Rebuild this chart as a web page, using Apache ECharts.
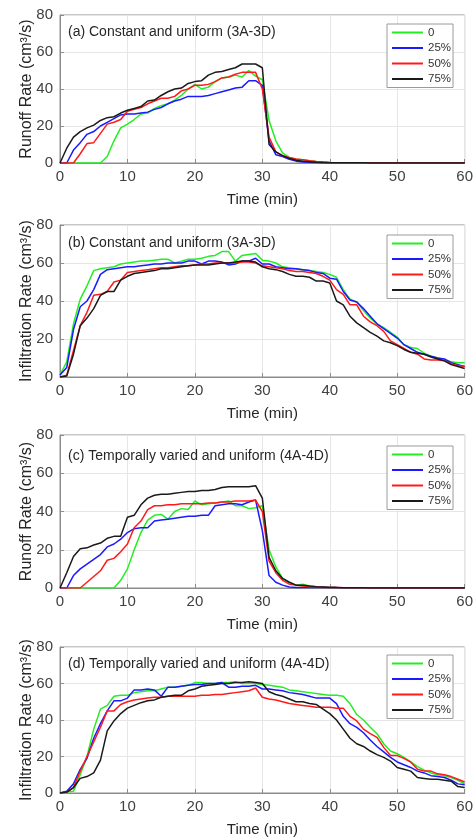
<!DOCTYPE html>
<html><head><meta charset="utf-8">
<script src="https://cdn.jsdelivr.net/npm/echarts@6/dist/echarts.min.js"></script>
<style>html,body{margin:0;padding:0;background:#fff}#c{width:476px;height:838px}</style>
</head><body><div id="c"></div>
<script>
const time = Array.from({length: 61}, (_, i) => i);
const seriesNames = ['0', '25%', '50%', '75%'];
const colors = ['#22ee22', '#1a1aff', '#ff1a1a', '#1a1a1a'];
const panelTitles = ['(a) Constant and uniform (3A-3D)', '(b) Constant and uniform (3A-3D)', '(c) Temporally varied and uniform (4A-4D)', '(d) Temporally varied and uniform (4A-4D)'];
const yNames = ['Runoff Rate (cm³/s)', 'Infiltration Rate (cm³/s)', 'Runoff Rate (cm³/s)', 'Infiltration Rate (cm³/s)'];

// tail values after 40 min for runoff
const tailA = [0.2,0.15,0.1,0.1,0.1,0.05,0.05,0,0,0,0,0,0,0,0,0,0,0,0,0];

// Panel (a) runoff, constant and uniform
const a0 = [0,0,0,0,0,0,0,3.5,12,19,21,23.5,26.5,27,29.5,31,32,34,36.5,40,42.5,40,41,44,46,46.5,47.5,46.5,50,47,45,23,12,5.5,3,2,1.8,1.2,0.8,0.5,0.3].concat(tailA);
const a25 = [0,0,7,11,15.5,17,20,22,24,26,26.5,26.5,27,27.5,29,30,32,33.5,34.5,36,36,36,36.5,37.5,38.5,39.5,40.5,41,44.5,44.5,42,12,4.5,3.5,2,1,0.6,0.4,0.3,0.2,0.2].concat(tailA);
const a50 = [0,0,0,5,10.5,11,16,21,22,23.5,28,29,30,32,33.5,35,35,36,39,40,42,42,42.5,44,46,46.5,48,49,49,49,40,14,6,4,3,2.2,1.8,1.2,0.8,0.5,0.3].concat(tailA);
const a75 = [0,8,14,17,19,20.5,23,24.5,25,27,28.5,29.5,30.5,33.5,34,36.5,38.5,40,40.5,43,44,44.5,47.5,49,49.5,50.5,51.5,53.5,53.5,53.5,51.5,10,6,4,2.5,1.5,1,0.7,0.4,0.3,0.2].concat(tailA);

// Panel (b) infiltration, constant and uniform
const b0 = [1,8,28,41,48,56,57,57.5,58,59.5,60,60.5,61,61,61.5,62,62,60,61,62,62,62.5,63.5,64,66,66,61,64,64.5,65,61.5,61,60,58,57.5,57,56.5,56,55.5,55,54,52.5,46,41,39.5,35,31,28,26,23.5,21,17,15.5,15,12.5,11,10,9,8,7.5,7.5];
const b25 = [1,5,25,37,40,46,54,56.5,57,57.5,58,58,58.5,59,59.5,59.5,60,60,60,61,61,59.5,61,61,60.5,59,59.5,61,61,62.5,59.5,59.5,58,57.5,57,57,56.5,56,55,54.5,52,51.5,45,40.5,39.5,36,32,28,25.5,23,20.5,17,15,13,12,11,10,9.5,7.5,6.5,5.5];
const b50 = [0,1,14,27,34,43,43.5,45,50,51,55,55.5,56,56.5,57,57.5,57.5,58,58.5,58.5,59,59.5,59.5,60,60,60,60,60.5,60.5,60,58.5,58,57.5,57,56,55.5,55.5,55,54.5,53,51,46,43.5,38,38,32,29,27,24,19,17,15,13,12,9.5,9,9,8.5,7,6,5.5];
const b75 = [0,0.5,12,27,31,36,43,45,45,51,53,54.5,55,55.5,56,57,57,57.5,58,58.5,59,59,59,59.5,60,60,60.5,61,61,60.5,58,57,56.5,55.5,54,53,53,52.5,50.5,50.5,49.5,40,38,32,28.5,26,23.5,21.5,19,18,16.5,14.5,13,12.5,12,10.5,9.5,8.5,6.5,5.5,4.5];

// Panel (c) runoff, temporally varied
const c0 = [0,0,0,0,0,0,0,0,0,4,10,20,29,35.5,38,38.5,36,40,41.5,41,45.5,43.5,44,44.5,45,45.5,43,43,41.5,42,43,20,11,5,3,1.5,2,1,0.7,0.5,0.3].concat(tailA);
const c25 = [0,0,6.5,10,12.5,15,17.5,21.5,23,25.5,29,31,31.5,31.5,35,35.5,36,36.5,37,37.5,37.5,38,38,43,43.5,44,44,43.5,45,46,30,6.5,3,1.5,0.5,0.3,0.3,0.2,0.2,0.2,0.2].concat(tailA);
const c50 = [0,0,0,0,3,6,9,14.5,15.5,19,23,31.5,35,41,43,43,43.5,43.5,44,44,44,44,44.5,44.5,45,45,45.5,45.5,45.5,46,40,14,8,4,2,1.5,1,0.7,0.5,0.3,0.2].concat(tailA);
const c75 = [0,8,16.5,20.5,21,22.5,23.5,26,27,27,37,38,43.5,47,48.5,49,49,49.5,50,50.5,50.5,51,51,51.5,52.5,53,53,53,53,53.5,47,16,9,5,3,1.5,1.5,1,0.7,0.5,0.3].concat(tailA);

// Panel (d) infiltration, temporally varied
const d0 = [0,0.5,1,10,20,35,46,48,53,53.5,53.5,55,55.5,56,56,57,58,58,58.5,59,60.5,60.5,60,60,60.5,60.5,61,60,60,60,59.5,59,58.5,58,56.5,56,55.5,55,54.5,54,53.5,53.5,53,49,43,40,36,32.5,27,23,21.5,19.5,17,14.5,12.5,11,10,9.5,8.5,7,5];
const d25 = [0,1,5,13,19,30,38,45,50.5,50.5,52,56.5,56.5,57,56.5,53,58,58,58.5,59,59.5,59.5,60,60,60.5,58,58,58.5,58.5,59,57,57,56.5,56,55,54.5,54,53,52,52,52,49,42,38,36,33,29,25.5,22.5,19.5,17,15.5,14,12,11,9.5,9,8.5,7,5,4.5];
const d50 = [0,0.5,3,12,20,28,36,45,45,48.5,50,51,51.5,52,52.5,52.5,53,53,53,53,53,53.5,53.5,54,54,54.5,55,55.5,56,57.5,52.5,51.5,51,50,49,48.5,48,47.5,47,47,47,46.5,46.5,42,39.5,35,32.5,30.5,25,20.5,20.5,19,17,13,12,12,10.5,10,9,7.5,6];
const d75 = [0,0.5,3,8,9,11,18,34,39.5,43.5,46.5,48,49.5,50.5,51,52.5,53,53.5,53.5,56,57,58.5,59,59.5,60,60,60.5,60.5,61,60.5,60,55.5,54,53,51.5,50,50,49,48.5,46,43.5,40,35,30,27,25.5,23,21,19.5,17.5,14,13,12,8.5,8,7.5,7.5,7,6.5,3.5,3];

const panels = [[a0,a25,a50,a75],[b0,b25,b50,b75],[c0,c25,c50,c75],[d0,d25,d50,d75]];
const gridTops = [15, 225, 435, 647];
const gridHeights = [148, 152, 153, 151];
const legendTops = [24, 235, 446, 655];
const titleTops = [20, 231, 444, 652];
const font = 'Liberation Sans, Arial, sans-serif';

const option = {
  animation: false,
  backgroundColor: '#fff',
  textStyle: {fontFamily: font},
  title: panelTitles.map((t, i) => ({
    text: t, left: 63, top: titleTops[i],
    textStyle: {fontSize: 14, fontWeight: 'normal', color: '#262626', fontFamily: font}
  })),
  grid: gridTops.map((t, i) => ({
    left: 60, top: t, width: 406, height: gridHeights[i],
    show: true, borderColor: '#8c8c8c', borderWidth: 1, backgroundColor: 'transparent'
  })),
  legend: legendTops.map((t, i) => ({
    data: seriesNames.map(n => ({name: n, icon: 'rect'})),
    orient: 'vertical', left: 387, top: t,
    backgroundColor: '#fff', borderColor: '#9a9a9a', borderWidth: 1,
    padding: [2, 2, 2, 5], itemGap: 2.5, itemWidth: 31, itemHeight: 2,
    selectedMode: false,
    textStyle: {fontSize: 11.5, lineHeight: 13, color: '#333', fontFamily: font}
  })),
  xAxis: gridTops.map((t, i) => ({
    gridIndex: i, type: 'value', min: 0, max: 60, interval: 10,
    name: 'Time (min)', nameLocation: 'middle', nameGap: 29,
    nameTextStyle: {fontSize: 15, color: '#262626'},
    axisLine: {show: true, lineStyle: {color: '#8c8c8c'}},
    axisTick: {show: true, inside: true, length: 4, lineStyle: {color: '#8c8c8c'}},
    axisLabel: {fontSize: 15, color: '#404040', margin: 6},
    splitLine: {show: true, lineStyle: {color: '#e6e6e6'}}
  })),
  yAxis: gridTops.map((t, i) => ({
    gridIndex: i, type: 'value', min: 0, max: 80, interval: 20,
    name: yNames[i], nameLocation: 'middle', nameGap: 25, nameMoveOverlap: false,
    nameTextStyle: {fontSize: 16, color: '#262626'},
    axisLine: {show: true, lineStyle: {color: '#8c8c8c'}},
    axisTick: {show: true, inside: true, length: 4, lineStyle: {color: '#8c8c8c'}},
    axisLabel: {fontSize: 15, color: '#404040', margin: 7},
    splitLine: {show: true, lineStyle: {color: '#e6e6e6'}}
  })),
  series: []
};
panels.forEach((p, i) => {
  p.forEach((vals, j) => {
    option.series.push({
      name: seriesNames[j], type: 'line', xAxisIndex: i, yAxisIndex: i,
      symbol: 'none', color: colors[j],
      lineStyle: {width: 1.5, color: colors[j]},
      data: vals.map((v, k) => [time[k], v]),
      z: 2 + j
    });
  });
});
const chart = echarts.init(document.getElementById('c'), null, {renderer: 'canvas'});
chart.setOption(option);
</script></body></html>
